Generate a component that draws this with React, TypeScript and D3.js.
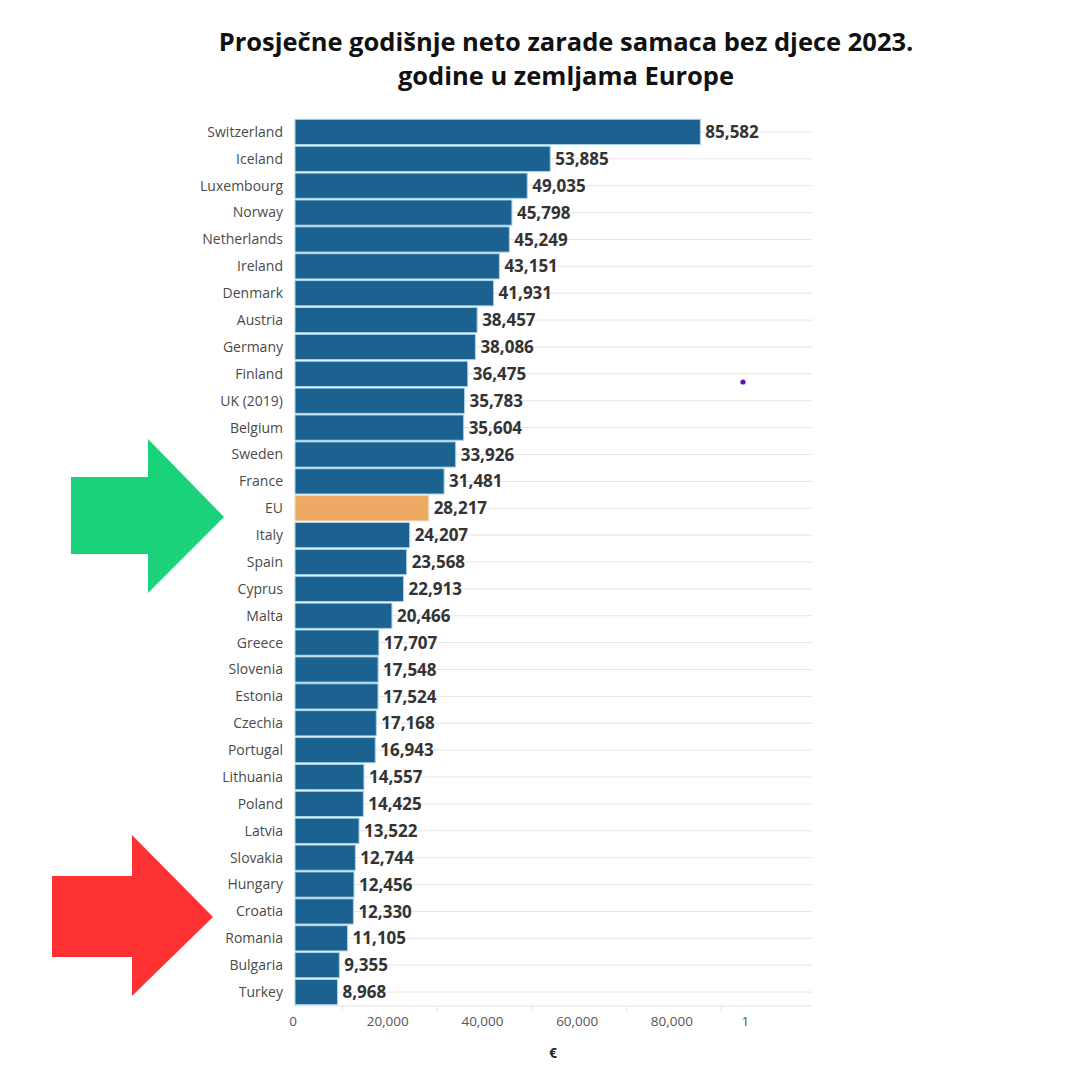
import React from "react";
import * as d3 from "d3";

const countries = ["Switzerland","Iceland","Luxembourg","Norway","Netherlands","Ireland","Denmark","Austria","Germany","Finland","UK (2019)","Belgium","Sweden","France","EU","Italy","Spain","Cyprus","Malta","Greece","Slovenia","Estonia","Czechia","Portugal","Lithuania","Poland","Latvia","Slovakia","Hungary","Croatia","Romania","Bulgaria","Turkey"];
const values = [85582,53885,49035,45798,45249,43151,41931,38457,38086,36475,35783,35604,33926,31481,28217,24207,23568,22913,20466,17707,17548,17524,17168,16943,14557,14425,13522,12744,12456,12330,11105,9355,8968];
const highlight = "EU";
const tickValues = [0, 20000, 40000, 60000, 80000, 95500];
const tickLabels = ["0", "20,000", "40,000", "60,000", "80,000", "1"];
const minorTicks = [10000, 30000, 50000, 70000, 90000];
const titleLines = ["Prosječne godišnje neto zarade samaca bez djece 2023.", "godine u zemljama Europe"];
const axisTitle = "€";

export default function App() {
  const W = 1080, H = 1080;
  const x = d3.scaleLinear().domain([0, 110000]).range([295, 816]);
  const y = d3.scaleBand<string>().domain(countries).range([118.5, 1005.5]).paddingInner(0.06).paddingOuter(0.03);
  const fmt = d3.format(",");
  const font = "'Open Sans', sans-serif";
  const axisY = 1006;
  return (
    <svg width={W} height={H} style={{ position: "absolute", left: 0, top: 0, background: "#fff" }}>
      <rect width={W} height={H} fill="#fff" />
      {titleLines.map((t, i) => (
        <text key={i} x={566} y={51 + i * 34} textAnchor="middle" fontFamily={font} fontWeight={700} fontSize={25.5} fill="#111">{t}</text>
      ))}
      {countries.map((c) => {
        const cy = (y(c) as number) + y.bandwidth() / 2;
        return <line key={"g" + c} x1={295} x2={812} y1={cy} y2={cy} stroke="#e6e6e6" strokeWidth={1} />;
      })}
      <line x1={293} x2={812} y1={axisY} y2={axisY} stroke="#e3e3e3" />
      {minorTicks.map((t) => (
        <line key={"m" + t} x1={x(t)} x2={x(t)} y1={axisY} y2={axisY + 5} stroke="#e3e3e3" />
      ))}
      {countries.map((c, i) => {
        const by = y(c) as number;
        const cy = by + y.bandwidth() / 2;
        const v = values[i];
        return (
          <g key={c}>
            <text x={283} y={cy} dy="0.35em" textAnchor="end" fontFamily={font} fontSize={14} fill="#4a4a4a">{c}</text>
            <rect x={x(0)} y={by} width={x(v) - x(0)} height={y.bandwidth()} fill={c === highlight ? "#eea965" : "#1b6290"} stroke={c === highlight ? "#f6d6b4" : "#a9d3ea"} strokeWidth={1} />
            <text x={x(v) + 5} y={cy} dy="0.36em" fontFamily={font} fontWeight={700} fontSize={17} fill="#333">{fmt(v)}</text>
          </g>
        );
      })}
      {tickValues.map((t, i) => (
        <text key={"t" + i} x={x(t) - 2} y={1026} textAnchor="middle" fontFamily={font} fontSize={13.5} fill="#555">{tickLabels[i]}</text>
      ))}
      <text x={553} y={1058} textAnchor="middle" fontFamily={font} fontWeight={700} fontSize={13.5} fill="#222">{axisTitle}</text>
      <circle cx={743} cy={382} r={2.6} fill="#5a11c4" />
      <polygon points="71,477 148,477 148,439 224,517 148,593 148,554 71,554" fill="#19d27a" />
      <polygon points="52,876 132,876 132,835 213,917 132,996 132,957 52,957" fill="#fe3232" />
    </svg>
  );
}
